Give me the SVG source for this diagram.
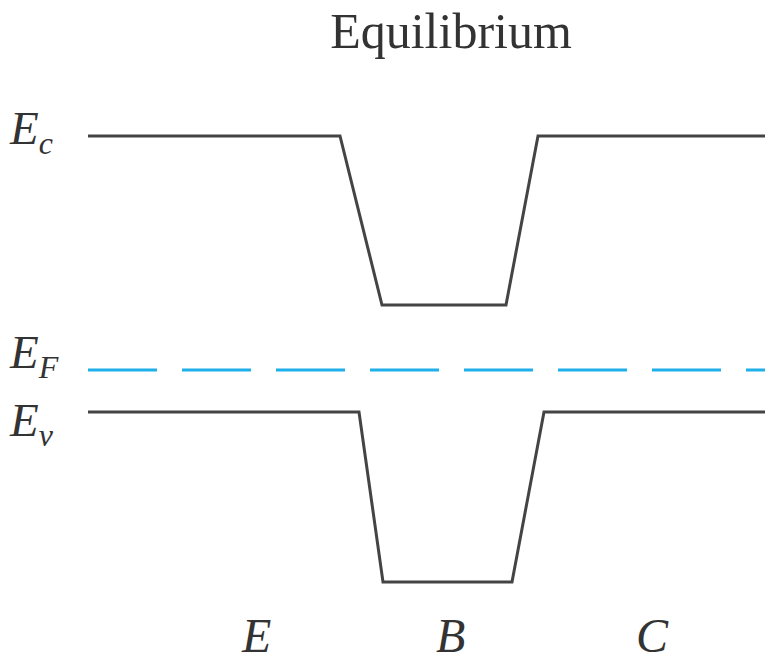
<svg xmlns="http://www.w3.org/2000/svg" width="769" height="663" viewBox="0 0 769 663">
<style>
.band{fill:none;stroke:#444;stroke-width:3;stroke-linejoin:miter}
.fermi{fill:none;stroke:#1fb0ea;stroke-width:3;stroke-dasharray:69 25}
.lab{font-family:"Liberation Serif","Times New Roman",serif;font-style:italic;fill:#333}
.title{font-family:"Liberation Serif","Times New Roman",serif;fill:#333}
</style>
<rect width="769" height="663" fill="#fff"/>
<text class="title" x="451" y="48" font-size="50" text-anchor="middle">Equilibrium</text>
<g id="connectors">
<path id="Ec" class="band" d="M88,136 H340 L382,305 H506 L538,136 H765"/>
<path id="EF" class="fermi" d="M88,370 H765"/>
<path id="Ev" class="band" d="M88,412 H359 L383,582 H512 L544,412 H765"/>
</g>
<g id="labels">
<text class="lab" x="10" y="144" font-size="47">E<tspan font-size="32" dy="10">c</tspan></text>
<text class="lab" x="10" y="368" font-size="47">E<tspan font-size="32" dy="10">F</tspan></text>
<text class="lab" x="10" y="436" font-size="47">E<tspan font-size="32" dy="10">v</tspan></text>
<text class="lab" x="242" y="652" font-size="48">E</text>
<text class="lab" x="436" y="652" font-size="48">B</text>
<text class="lab" x="636" y="652" font-size="48">C</text>
</g>
</svg>
